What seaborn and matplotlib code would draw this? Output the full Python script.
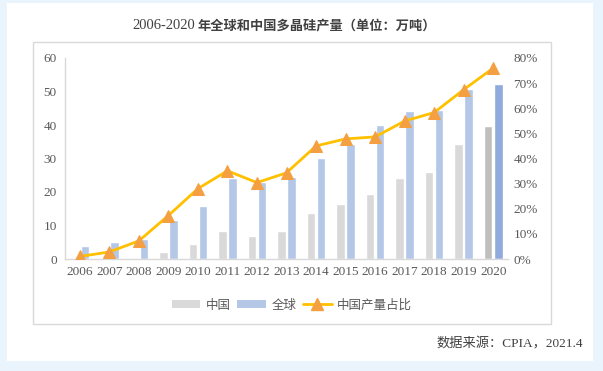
import matplotlib
matplotlib.use("Agg")
import matplotlib.pyplot as plt
import matplotlib.ticker as mticker
from matplotlib.patches import Rectangle, Patch
from matplotlib.lines import Line2D
import seaborn as sns
import pandas as pd

# ---- data ----
years = [str(y) for y in range(2006, 2021)]
china = [0.04, 0.14, 0.43, 2.0, 4.5, 8.4, 7.0, 8.4, 13.6, 16.5, 19.3, 24.3, 25.9, 34.2, 39.6]
world = [4.0, 5.0, 6.0, 11.6, 15.9, 24.1, 23.1, 24.6, 30.2, 34.4, 39.9, 44.2, 44.6, 50.6, 52.1]
share = [1.0, 2.8, 7.2, 17.3, 28.0, 35.1, 30.4, 34.3, 45.0, 47.8, 48.6, 54.9, 58.3, 67.4, 76.0]
series_names = ["中国", "全球"]
line_name = "中国产量占比"
left_ticks = [0, 10, 20, 30, 40, 50, 60]
right_ticks = [0, 10, 20, 30, 40, 50, 60, 70, 80]
title_num = "2006-2020"
title_cn = "年全球和中国多晶硅产量（单位：万吨）"
source_text = "数据来源：CPIA，2021.4"

c_china, c_china_last = "#D9D9D9", "#BFBFBF"
c_world, c_world_last = "#B4C7E7", "#8FAADC"
c_line, c_marker = "#FFC000", "#F4A042"
txt = "#595959"

sns.set_theme(style="white")
plt.rcParams['font.family'] = ['Liberation Serif', 'Noto Sans CJK SC', 'DejaVu Sans']
CJK = ['Noto Sans CJK SC', 'DejaVu Sans']
MIX = ['Liberation Serif', 'Noto Sans CJK SC', 'DejaVu Sans']

W, H = 603, 371
fig = plt.figure(figsize=(W / 100, H / 100), dpi=100)
fig.patch.set_facecolor("#EAF4FD")

def fx(px):
    return px / W

def fy(py):
    return 1 - py / H

# white panel
fig.add_artist(Rectangle((fx(7), fy(361)), fx(593) - fx(7), fy(3) - fy(361),
                         transform=fig.transFigure, facecolor="white", edgecolor="none", zorder=-3))
# chart box
fig.add_artist(Rectangle((fx(33), fy(324)), fx(551) - fx(33), fy(42) - fy(324),
                         transform=fig.transFigure, facecolor="white", edgecolor="#D9D9D9",
                         linewidth=1.0, zorder=-2))

ax = fig.add_axes([fx(65), fy(259), fx(508) - fx(65), fy(58) - fy(259)])
ax.set_facecolor("none")

df = pd.DataFrame({
    "year": years * 2,
    "value": china + world,
    "series": [series_names[0]] * len(years) + [series_names[1]] * len(years),
})
sns.barplot(data=df, x="year", y="value", hue="series", order=years, hue_order=series_names,
            palette=[c_china, c_world], width=0.68, gap=0.15, dodge=True, ax=ax,
            legend=False, saturation=1, errorbar=None)
ax.containers[0][len(years) - 1].set_facecolor(c_china_last)
ax.containers[1][len(years) - 1].set_facecolor(c_world_last)

ax.set_xlim(-0.5, len(years) - 0.5)
ax.set_ylim(0, 60)
ax.set_yticks(left_ticks)
ax.set_xlabel("")
ax.set_ylabel("")
for s in ["top", "right"]:
    ax.spines[s].set_visible(False)
for s in ["left", "bottom"]:
    ax.spines[s].set_color("#D9D9D9")
    ax.spines[s].set_linewidth(1.0)
ax.tick_params(axis="both", length=0, labelsize=9.5, labelcolor=txt)
ax.tick_params(axis="y", pad=6)
ax.tick_params(axis="x", pad=5)

ax2 = ax.twinx()
sns.lineplot(x=years, y=share, sort=False, ax=ax2, color=c_line, linewidth=2,
             marker="^", markersize=9, markerfacecolor=c_marker, markeredgecolor=c_marker)
ax2.set_ylim(0, 80)
ax2.set_yticks(right_ticks)
ax2.yaxis.set_major_formatter(mticker.FuncFormatter(lambda v, p: f"{v:.0f}%"))
for s in ["top", "right", "left", "bottom"]:
    ax2.spines[s].set_visible(False)
ax2.tick_params(axis="y", length=0, labelsize=9.5, labelcolor=txt, pad=4)
ax2.set_ylabel("")

# legend
handles = [Patch(facecolor=c_china, edgecolor="none"),
           Patch(facecolor=c_world, edgecolor="none"),
           Line2D([], [], color=c_line, linewidth=2, marker="^", markersize=8,
                  markerfacecolor=c_marker, markeredgecolor=c_marker)]
fig.legend(handles, series_names + [line_name], loc="center", bbox_to_anchor=(fx(292), fy(305)),
           ncol=3, frameon=False, prop={"family": CJK, "size": 9}, labelcolor=txt,
           handlelength=2.3, handleheight=0.6, handletextpad=0.45, columnspacing=0.5,
           borderaxespad=0)

# title
fig.text(fx(195), fy(29), title_num, ha="right", va="baseline", fontsize=10.5,
         family=MIX, color="#404040")
fig.text(fx(198), fy(29), title_cn, ha="left", va="baseline", fontsize=9.5,
         family=CJK, weight="bold", color="#404040")

# source
fig.text(fx(583), fy(344), source_text, ha="right", va="center", fontsize=9.5,
         family=MIX, color="#404040")

fig.savefig("out.png", dpi=100, facecolor=fig.get_facecolor())
